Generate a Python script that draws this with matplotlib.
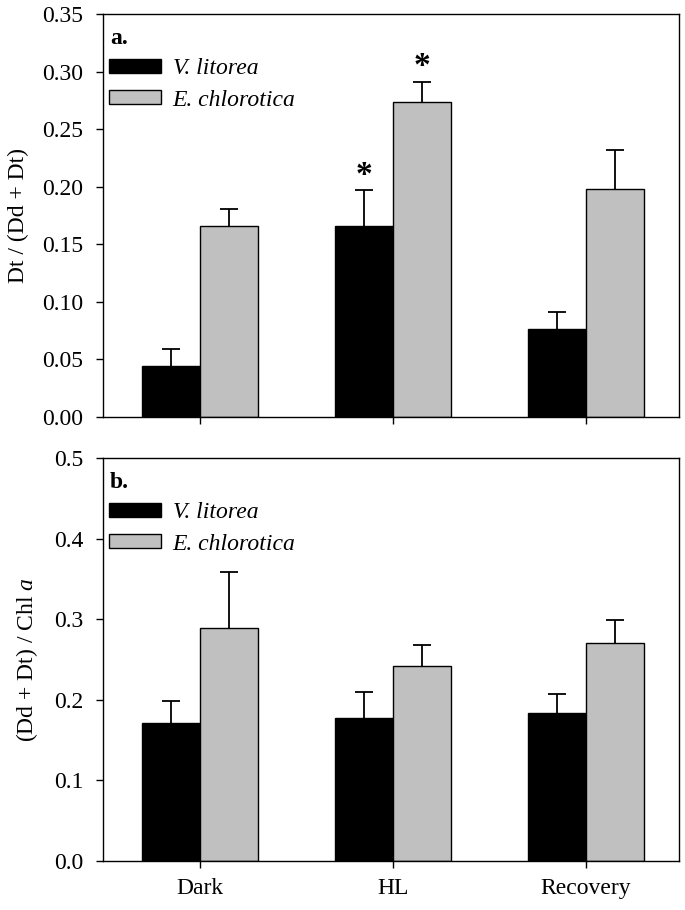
import numpy as np
from matplotlib import pyplot as plt
from matplotlib.patches import Patch

plt.rcParams['font.family'] = ['Liberation Serif', 'DejaVu Serif']
plt.rcParams['mathtext.fontset'] = 'custom'
plt.rcParams['mathtext.it'] = 'Liberation Serif:italic'
plt.rcParams['mathtext.rm'] = 'Liberation Serif'

groups = ['Dark', 'HL', 'Recovery']
species = ['V. litorea', 'E. chlorotica']

# panel a: Dt / (Dd + Dt)
dt_vl = [0.044, 0.166, 0.076]
dt_vl_se = [0.015, 0.031, 0.015]
dt_ec = [0.166, 0.274, 0.198]
dt_ec_se = [0.015, 0.017, 0.034]

# panel b: (Dd + Dt) / Chl a
pool_vl = [0.171, 0.177, 0.184]
pool_vl_se = [0.027, 0.033, 0.023]
pool_ec = [0.289, 0.242, 0.270]
pool_ec_se = [0.070, 0.026, 0.029]

# significance stars (panel a, HL)
star_y = [0.210, 0.304]

colors = ['black', '#c0c0c0']
fs = 17

fig = plt.figure(figsize=(6.85, 9.1), dpi=100)
ax1 = fig.add_axes([0.1504, 0.5418, 0.8403, 0.4428])
ax2 = fig.add_axes([0.1504, 0.0538, 0.8403, 0.4429])

x = np.arange(len(groups))
w = 0.3


def draw(ax, a, a_se, b, b_se, ymax, step, fmt, label, tag):
    for vals, se, off, c in [(a, a_se, -w / 2, colors[0]), (b, b_se, w / 2, colors[1])]:
        vals = np.array(vals)
        se = np.array(se)
        ax.bar(x + off, vals, w, color=c, edgecolor='black', linewidth=1, zorder=2)
        # upper error only: stem + cap
        ax.vlines(x + off, vals, vals + se, color='black', linewidth=1.3, zorder=1)
        ax.plot(x + off, vals + se, ls='none', marker='_', markersize=13,
                markeredgewidth=1.3, color='black', zorder=1)
    ax.set_xlim(-0.5, 2.48)
    ax.set_ylim(0, ymax)
    ticks = np.arange(0, ymax + step / 2, step)
    ax.set_yticks(ticks)
    ax.set_yticklabels([fmt % t for t in ticks], fontsize=fs)
    ax.set_xticks(x)
    ax.tick_params(direction='out', length=5, width=1, pad=9)
    ax.set_ylabel(label, fontsize=fs, labelpad=10)
    for s in ax.spines.values():
        s.set_linewidth(1)
    ax.text(0.012, 1 - 24 / 403, tag, transform=ax.transAxes, fontsize=fs, fontweight='bold',
            va='center', ha='left')
    handles = [Patch(facecolor=colors[0], edgecolor='black'),
               Patch(facecolor=colors[1], edgecolor='black')]
    ax.legend(handles, species, loc='upper left', bbox_to_anchor=(0.0104, 1 - 44 / 403),
              frameon=False, handlelength=2.2, handleheight=0.55,
              handletextpad=0.5, labelspacing=0.45, borderaxespad=0, borderpad=0,
              prop={'family': 'Liberation Serif', 'style': 'italic', 'size': fs})


draw(ax1, dt_vl, dt_vl_se, dt_ec, dt_ec_se, 0.35, 0.05, '%.2f', 'Dt / (Dd + Dt)', 'a.')
draw(ax2, pool_vl, pool_vl_se, pool_ec, pool_ec_se, 0.5, 0.1, '%.1f',
     r'(Dd + Dt) / Chl $\mathit{a}$', 'b.')

ax1.set_xticklabels([])
ax2.set_xticklabels(groups, fontsize=fs)
ax2.tick_params(axis='x', pad=7)

for off, yy in zip([-w / 2, w / 2], star_y):
    ax1.text(1 + off, yy, '*', ha='center', va='center', fontsize=24, fontweight='bold')

fig.savefig('out.png', dpi=100)
